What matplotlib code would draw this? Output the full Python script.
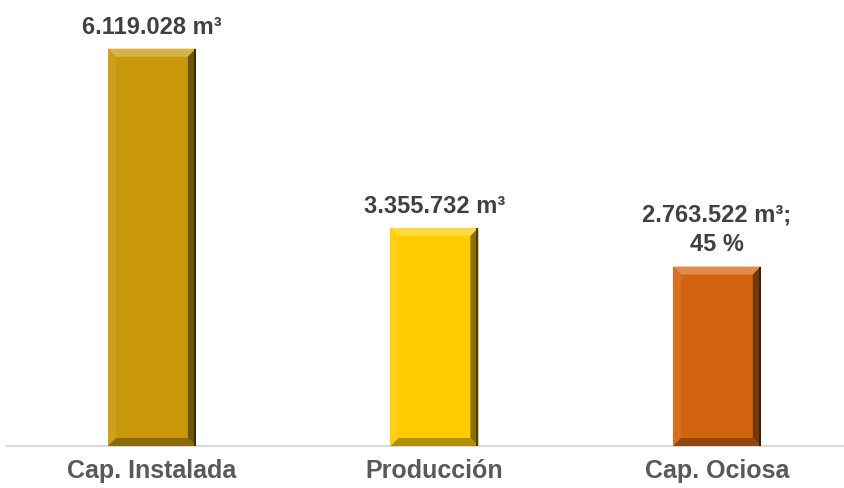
import matplotlib
matplotlib.use("Agg")
import matplotlib.pyplot as plt
from matplotlib.patches import Polygon, Rectangle
import matplotlib.colors as mcolors
import numpy as np

categories = ["Cap. Instalada", "Producción", "Cap. Ociosa"]
values = [6119028, 3355732, 2763522]
value_labels = ["6.119.028 m³", "3.355.732 m³", "2.763.522 m³;\n45 %"]
colors = ["#C8980A", "#FFCC00", "#D3640F"]

plt.rcParams['font.family'] = ['Liberation Sans', 'DejaVu Sans']

fig = plt.figure(figsize=(8.44, 4.89), dpi=100)
ax = fig.add_axes([7/844, 42/489, 837/844, 437/489])
ax.set_xlim(-0.513, 2.45)
ax.set_ylim(0, 6.73e6)
width = 0.311

def shade(c, f):
    r, g, b = mcolors.to_rgb(c)
    if f >= 0:
        return (r + (1-r)*f, g + (1-g)*f, b + (1-b)*f)
    return (r*(1+f), g*(1+f), b*(1+f))

px_x = (ax.get_xlim()[1]-ax.get_xlim()[0]) / 837
px_y = (ax.get_ylim()[1]-ax.get_ylim()[0]) / 437
bx = 8*px_x
by = 8*px_y

for i, (v, c) in enumerate(zip(values, colors)):
    x0, x1 = i - width/2, i + width/2
    ax.add_patch(Rectangle((x0, 0), width, v, facecolor=c, edgecolor='none', zorder=2))
    ax.add_patch(Polygon([(x0, v), (x1, v), (x1-bx, v-by), (x0+bx, v-by)],
                         facecolor=shade(c, 0.25), edgecolor='none', zorder=3))
    ax.add_patch(Polygon([(x0, 0), (x0, v), (x0+bx, v-by), (x0+bx, by)],
                         facecolor=shade(c, 0.08), edgecolor='none', zorder=3))
    ax.add_patch(Polygon([(x1, 0), (x1, v), (x1-bx, v-by), (x1-bx, by)],
                         facecolor=shade(c, -0.45), edgecolor='none', zorder=3))
    ax.add_patch(Polygon([(x0, 0), (x1, 0), (x1-bx, by), (x0+bx, by)],
                         facecolor=shade(c, -0.3), edgecolor='none', zorder=3))
    ax.add_patch(Rectangle((x1-2*px_x, 0), 2*px_x, v, facecolor=shade(c, -0.7),
                           edgecolor='none', zorder=4))

for i, (v, lab) in enumerate(zip(values, value_labels)):
    ax.annotate(lab, (i, v), xytext=(0, 8), textcoords='offset points',
                ha='center', va='bottom', fontsize=17, fontweight='bold',
                color='#404040', linespacing=1.4)

ax.set_xticks(range(len(categories)))
ax.set_xticklabels(categories, fontsize=18, fontweight='bold', color='#595959')
ax.tick_params(axis='x', length=0, pad=9)
ax.set_yticks([])
for s in ['top', 'right', 'left']:
    ax.spines[s].set_visible(False)
ax.spines['bottom'].set_color('#D9D9D9')
ax.spines['bottom'].set_linewidth(1.5)

fig.savefig("out.png", dpi=100)
